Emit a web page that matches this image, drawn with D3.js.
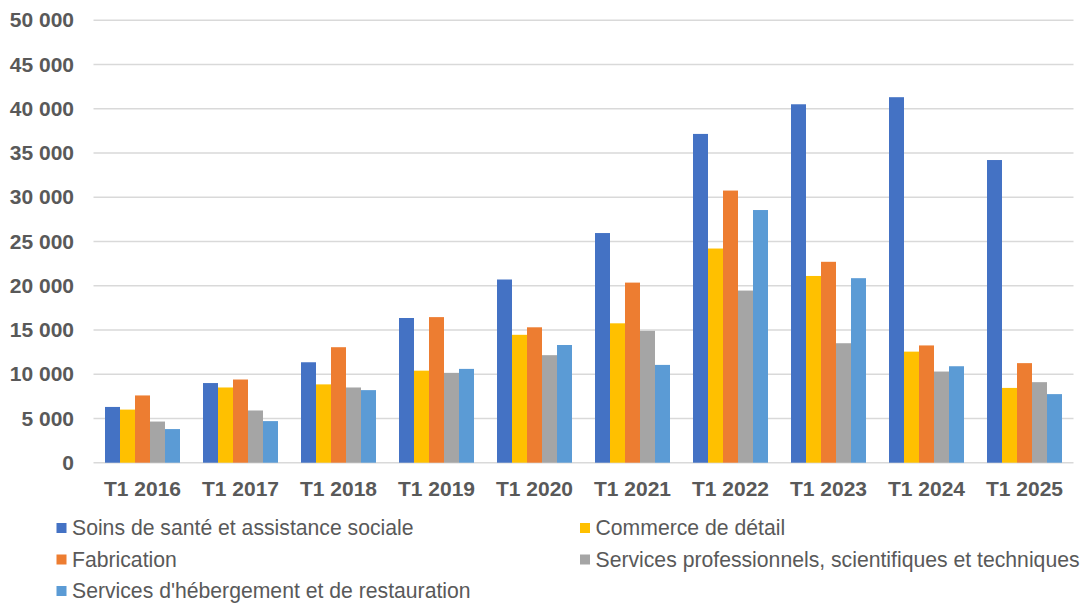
<!DOCTYPE html>
<html>
<head>
<meta charset="utf-8">
<script src="https://cdn.jsdelivr.net/npm/d3@7"></script>
<style>
  html, body { margin: 0; padding: 0; background: #ffffff; }
  svg { display: block; }
</style>
</head>
<body>
<svg id="chart" width="1088" height="604"></svg>
<script>
// Quarterly values (Q1 of each year) by industry sector
const categories = ["T1 2016", "T1 2017", "T1 2018", "T1 2019", "T1 2020",
                    "T1 2021", "T1 2022", "T1 2023", "T1 2024", "T1 2025"];
const sante        = [6300, 9000, 11350, 16350, 20700, 25950, 37150, 40500, 41300, 34200];
const commerce     = [6000, 8500, 8850, 10400, 14450, 15750, 24200, 21100, 12550, 8450];
const fabrication  = [7600, 9400, 13050, 16450, 15300, 20350, 30750, 22700, 13250, 11250];
const servicesPro  = [4650, 5900, 8500, 10150, 12150, 14900, 19450, 13500, 10300, 9100];
const hebergement  = [3800, 4700, 8200, 10600, 13300, 11050, 28550, 20850, 10900, 7750];
const seriesNames = [
  "Soins de santé et assistance sociale",
  "Commerce de détail",
  "Fabrication",
  "Services professionnels, scientifiques et techniques",
  "Services d'hébergement et de restauration"
];
const yTicks = [0, 5000, 10000, 15000, 20000, 25000, 30000, 35000, 40000, 45000, 50000];

const seriesValues = [sante, commerce, fabrication, servicesPro, hebergement];
const colors = ["#4472C4", "#FFC000", "#ED7D31", "#A5A5A5", "#5B9BD5"];

const svg = d3.select("#chart");
const FONT = "'Liberation Sans', Arial, sans-serif";
const TEXT = "#595959";

const plotLeft = 93.5, plotRight = 1073.5;
const y = d3.scaleLinear().domain([0, 50000]).range([462.7, 20.2]);
const x = d3.scaleBand().domain(categories).range([plotLeft, plotRight])
  .paddingInner(23 / 98).paddingOuter(11.5 / 98);
const xs = d3.scaleBand().domain(d3.range(seriesNames.length)).range([0, x.bandwidth()]);

// Horizontal gridlines
svg.append("g")
  .selectAll("line")
  .data(yTicks)
  .join("line")
  .attr("x1", plotLeft)
  .attr("x2", plotRight)
  .attr("y1", d => y(d))
  .attr("y2", d => y(d))
  .attr("stroke", "#d9d9d9")
  .attr("stroke-width", 1.5);

// Y axis labels
const fmt = v => d3.format(",")(v).replace(/,/g, " ");
const yAxis = d3.axisLeft(y).tickValues(yTicks).tickFormat(fmt).tickSize(0).tickPadding(0);
const yg = svg.append("g").attr("transform", "translate(74,0)").call(yAxis);
yg.select(".domain").remove();
yg.selectAll("text")
  .attr("fill", TEXT)
  .style("font-family", FONT)
  .style("font-size", "21px")
  .style("font-weight", "bold");

// Bars
const groups = svg.append("g")
  .selectAll("g")
  .data(categories)
  .join("g")
  .attr("transform", d => `translate(${x(d)},0)`);

groups.selectAll("rect")
  .data((c, i) => seriesValues.map((vals, s) => ({ s, v: vals[i] })))
  .join("rect")
  .attr("x", d => xs(d.s))
  .attr("width", xs.bandwidth())
  .attr("y", d => y(d.v))
  .attr("height", d => y(0) - y(d.v))
  .attr("fill", d => colors[d.s]);

// X axis labels
const xAxis = d3.axisBottom(x).tickSize(0).tickPadding(0);
const xg = svg.append("g").attr("transform", "translate(0,481)").call(xAxis);
xg.select(".domain").remove();
xg.selectAll("text")
  .attr("dy", "0.71em")
  .attr("fill", TEXT)
  .style("font-family", FONT)
  .style("font-size", "21px")
  .style("font-weight", "bold");

// Legend: two columns, filled row by row
const legendCols = [56.5, 580];
const legendRows = [528, 559.5, 591];
const legend = svg.append("g")
  .selectAll("g")
  .data(seriesNames)
  .join("g")
  .attr("transform", (d, i) => `translate(${legendCols[i % 2]},${legendRows[Math.floor(i / 2)]})`);

legend.append("rect")
  .attr("x", 0)
  .attr("y", -5)
  .attr("width", 10)
  .attr("height", 10)
  .attr("fill", (d, i) => colors[i]);

legend.append("text")
  .attr("x", 15.5)
  .attr("y", 0)
  .attr("dy", "0.35em")
  .attr("fill", TEXT)
  .style("font-family", FONT)
  .style("font-size", "21.2px")
  .text(d => d);
</script>
</body>
</html>
